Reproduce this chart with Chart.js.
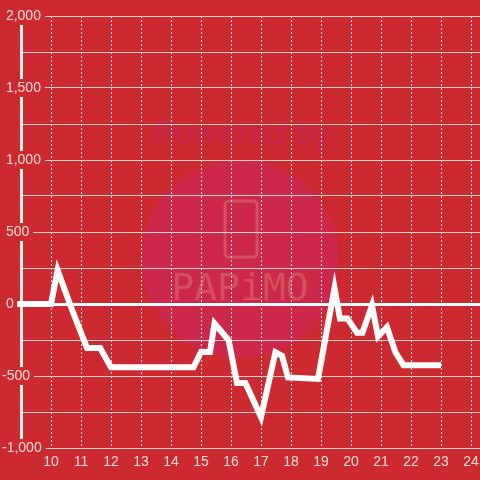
<!DOCTYPE html>
<html>
<head>
<meta charset="utf-8">
<script src="https://cdn.jsdelivr.net/npm/chart.js@4"></script>
<style>
  html, body { margin: 0; padding: 0; background: #cc2a30; }
  canvas { display: block; }
</style>
</head>
<body>
<canvas id="chart" width="480" height="480"></canvas>
<script>
// hour of day and running balance
const hours = [8.87, 10.0, 10.22, 10.7, 11.2, 11.64, 12.0, 14.75, 15.0, 15.3, 15.45, 15.92, 16.2, 16.48, 17.0,
               17.48, 17.7, 17.9, 18.9, 19.45, 19.63, 19.88, 20.2, 20.38, 20.7, 20.9, 21.2, 21.48, 21.75, 23.0];
const balance = [0, 0, 235, -40, -305, -305, -440, -440, -333, -333, -135, -250, -549, -549, -785,
                 -335, -360, -510, -520, 110, -100, -100, -200, -200, -10, -225, -160, -335, -425, -425];

const xMin = 9, xMax = 24.3;
const yMin = -1000, yMax = 2000;
const yLabelStep = 500;

const BG = '#cc2a30';
const TEXT = '#f3dcdc';
const FONT = '"Liberation Sans", Arial, sans-serif';

function yLabel(v) {
    if (v % yLabelStep !== 0) return '';
    return (v >= 0 ? ' ' : '') + v.toLocaleString('en-US');
}

const watermark = {
    id: 'watermark',
    beforeDraw(chart) {
        const { ctx } = chart;
        ctx.save();
        ctx.fillStyle = BG;
        ctx.fillRect(0, 0, chart.width, chart.height);

        ctx.fillStyle = '#cd2849';
        ctx.beginPath();
        ctx.arc(240, 259, 99, 0, Math.PI * 2);
        ctx.fill();

        ctx.textAlign = 'center';
        ctx.textBaseline = 'middle';
        ctx.font = 'italic bold 32px ' + FONT;
        ctx.fillStyle = '#c9264a';
        ctx.fillText('Powered by', 242, 135);

        ctx.strokeStyle = '#d4505c';
        ctx.lineWidth = 3;
        ctx.beginPath();
        ctx.roundRect(225, 201, 32, 56, 4);
        ctx.stroke();

        ctx.font = '38px "DejaVu Sans Mono", monospace';
        ctx.fillStyle = '#d4505c';
        ctx.fillText('PAPiMO', 240, 290);
        ctx.restore();
    }
};

function noPad(s) {
    s.paddingLeft = 0;
    s.paddingRight = 0;
}

const ctx = document.getElementById('chart').getContext('2d');

const chart = new Chart(ctx, {
    type: 'line',
    data: {
        datasets: [{
            data: hours.map((h, i) => ({ x: h, y: balance[i] })),
            borderColor: '#ffffff',
            borderWidth: 6,
            borderCapStyle: 'butt',
            pointRadius: 0,
            tension: 0,
            fill: false,
            clip: false
        }]
    },
    options: {
        responsive: false,
        animation: false,
        events: [],
        layout: { padding: { left: 2, top: 16, right: 0, bottom: 0 } },
        plugins: { legend: { display: false }, tooltip: { enabled: false } },
        scales: {
            x: {
                type: 'linear',
                min: xMin,
                max: xMax,
                afterFit: s => { s.height = 32; noPad(s); },
                grid: {
                    drawTicks: false,
                    color: c => c.tick && c.tick.value === xMin ? 'rgba(0,0,0,0)' : 'rgba(255,255,255,0.85)',
                    lineWidth: 1
                },
                border: { display: false, dash: [2, 2] },
                ticks: {
                    stepSize: 1,
                    includeBounds: false,
                    autoSkip: false,
                    maxRotation: 0,
                    padding: 6,
                    color: TEXT,
                    font: { family: FONT, size: 14 },
                    callback: v => v === xMin ? '' : String(v)
                }
            },
            y: {
                min: yMin,
                max: yMax,
                afterFit: s => { s.width = 19; noPad(s); },
                grid: {
                    drawTicks: false,
                    color: c => c.tick && c.tick.value === 0 ? '#ffffff' : '#cfcfcf',
                    lineWidth: c => c.tick && c.tick.value === 0 ? 3 : 1
                },
                border: { display: true, color: '#f4f0f0', width: 3 },
                ticks: {
                    stepSize: 250,
                    mirror: true,
                    crossAlign: 'near',
                    padding: -19,
                    color: TEXT,
                    font: { family: FONT, size: 14 },
                    showLabelBackdrop: c => c.tick && c.tick.value % yLabelStep === 0,
                    backdropColor: BG,
                    backdropPadding: { left: 2, right: 4, top: 0.6, bottom: 0.6 },
                    callback: yLabel
                }
            }
        }
    },
    plugins: [watermark]
});
</script>
</body>
</html>
